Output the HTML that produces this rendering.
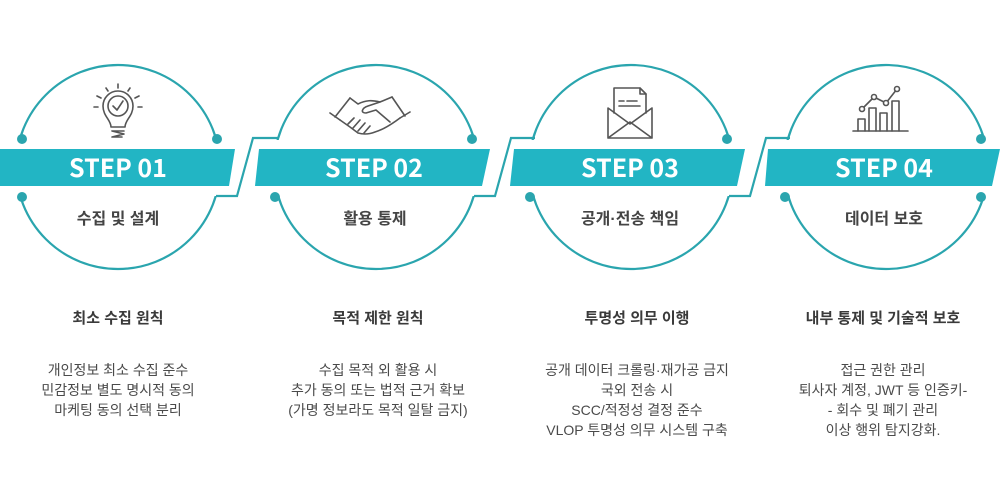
<!DOCTYPE html>
<html><head><meta charset="utf-8"><style>
html,body{margin:0;padding:0;background:#fff;width:1000px;height:500px;overflow:hidden}
svg{display:block}
.st{font-family:"Noto Sans CJK KR",sans-serif;font-weight:bold;fill:#fff;font-size:25px}
.sub{font-family:"Liberation Sans","Noto Sans CJK KR",sans-serif;font-weight:bold;fill:#444;font-size:16px}
.tt{font-family:"Liberation Sans","Noto Sans CJK KR",sans-serif;font-weight:bold;fill:#3a3a3a;font-size:15px}
.bd{font-family:"Liberation Sans","Noto Sans CJK KR",sans-serif;fill:#4a4a4a;font-size:14px}
.ic{fill:none;stroke:#555;stroke-width:1.6;stroke-linecap:round;stroke-linejoin:round}
</style></head><body>
<svg width="1000" height="500" viewBox="0 0 1000 500">
<g fill="none" stroke="#2aa5ae" stroke-width="2.2">
<circle cx="118" cy="167" r="102"/>
<circle cx="376" cy="167" r="102"/>
<circle cx="631" cy="167" r="102"/>
<circle cx="886" cy="167" r="102"/>
</g>
<rect x="0" y="140" width="1000" height="56" fill="#fff"/>
<g fill="none" stroke="#2aa5ae" stroke-width="2.2">
<path d="M216,196 H237 L253,138 H278"/>
<path d="M474,196 H495 L511,138 H535"/>
<path d="M729,196 H750 L766,138 H790"/>
</g>
<g fill="#2aa5ae">
<circle cx="22" cy="139" r="5"/><circle cx="217" cy="139" r="5"/><circle cx="22" cy="197" r="5"/>
<circle cx="472" cy="139" r="5"/><circle cx="275" cy="197" r="5"/>
<circle cx="727" cy="139" r="5"/><circle cx="530" cy="197" r="5"/>
<circle cx="981" cy="139" r="5"/><circle cx="785" cy="197" r="5"/><circle cx="981" cy="197" r="5"/>
</g>
<g fill="#22b5c4">
<polygon points="0,149 235,149 229,186 0,186"/>
<polygon points="259,149 490,149 482,186 255,186"/>
<polygon points="514,149 745,149 737,186 510,186"/>
<polygon points="768,149 1000,149 992,186 765,186"/>
</g>
<g text-anchor="middle">
<text class="st" x="118" y="177">STEP 01</text>
<text class="st" x="374" y="177">STEP 02</text>
<text class="st" x="630" y="177">STEP 03</text>
<text class="st" x="884" y="177">STEP 04</text>
<text class="sub" x="118" y="224">수집 및 설계</text>
<text class="sub" x="375" y="224">활용 통제</text>
<text class="sub" x="630" y="224">공개·전송 책임</text>
<text class="sub" x="884" y="224">데이터 보호</text>
<text class="tt" x="118" y="323">최소 수집 원칙</text>
<text class="tt" x="378" y="323">목적 제한 원칙</text>
<text class="tt" x="637" y="323">투명성 의무 이행</text>
<text class="tt" x="883" y="323">내부 통제 및 기술적 보호</text>
<text class="bd" x="118" y="375">개인정보 최소 수집 준수</text>
<text class="bd" x="118" y="395">민감정보 별도 명시적 동의</text>
<text class="bd" x="118" y="415">마케팅 동의 선택 분리</text>
<text class="bd" x="378" y="375">수집 목적 외 활용 시</text>
<text class="bd" x="378" y="395">추가 동의 또는 법적 근거 확보</text>
<text class="bd" x="378" y="415">(가명 정보라도 목적 일탈 금지)</text>
<text class="bd" x="637" y="375">공개 데이터 크롤링·재가공 금지</text>
<text class="bd" x="637" y="395">국외 전송 시</text>
<text class="bd" x="637" y="415">SCC/적정성 결정 준수</text>
<text class="bd" x="637" y="435">VLOP 투명성 의무 시스템 구축</text>
<text class="bd" x="883" y="375">접근 권한 관리</text>
<text class="bd" x="883" y="395">퇴사자 계정, JWT 등 인증키-</text>
<text class="bd" x="883" y="415">- 회수 및 폐기 관리</text>
<text class="bd" x="883" y="435">이상 행위 탐지강화.</text>
</g>
<g class="ic">
<path d="M111,127 C111,120 103,116 103,106 A15,15 0 1 1 133,106 C133,116 125,120 125,127 Z"/>
<circle cx="118" cy="106" r="10"/>
<path d="M113,106 L117,110 L123,101"/>
<path d="M112,131 H124 M112,131 L124,134 L112,137 H122"/>
<path d="M118,84 V88 M106,88 L108,91 M130,88 L128,91 M97,96 L101,98 M139,96 L135,98 M94,107 H98 M138,107 H142"/>
</g>
<g class="ic">
<path d="M335,117 L350,98 M330,113 L340,120 M405,116 L392,97 M410,112 L400,118"/>
<path d="M350,98 L358,104 C366,100 372,100 380,102 L392,97"/>
<path d="M340,120 L350,127 L358,133 C365,135 370,134 375,132 C382,130 392,124 400,118"/>
<path d="M380,102 L368,106 C362,108 360,113 366,113 L376,110 L390,122"/>
<path d="M348,124 L354,118 M353,128 L360,120 M358,131 L365,123 M364,133 L370,126"/>
</g>
<g class="ic">
<path d="M614,113 V88 H640 L646,94 V113"/>
<path d="M640,88 V94 H646"/>
<path d="M619,101 H624 M627,101 H637 M619,106 H640"/>
<path d="M608,108 L630,124 L652,108 V138 H608 Z M608,138 L630,122 L652,138"/>
</g>
<g class="ic">
<path d="M853,131 H908"/>
<path d="M858,131 V119 H865 V131 M869,131 V108 H876 V131 M880,131 V113 H887 V131 M892,131 V101 H899 V131"/>
<path d="M862,109 L874,97 L886,103 L897,89"/>
<circle cx="862" cy="109" r="2.5" fill="#fff"/><circle cx="874" cy="97" r="2.5" fill="#fff"/>
<circle cx="886" cy="103" r="2.5" fill="#fff"/><circle cx="897" cy="89" r="2.5" fill="#fff"/>
</g>
</svg>
</body></html>
